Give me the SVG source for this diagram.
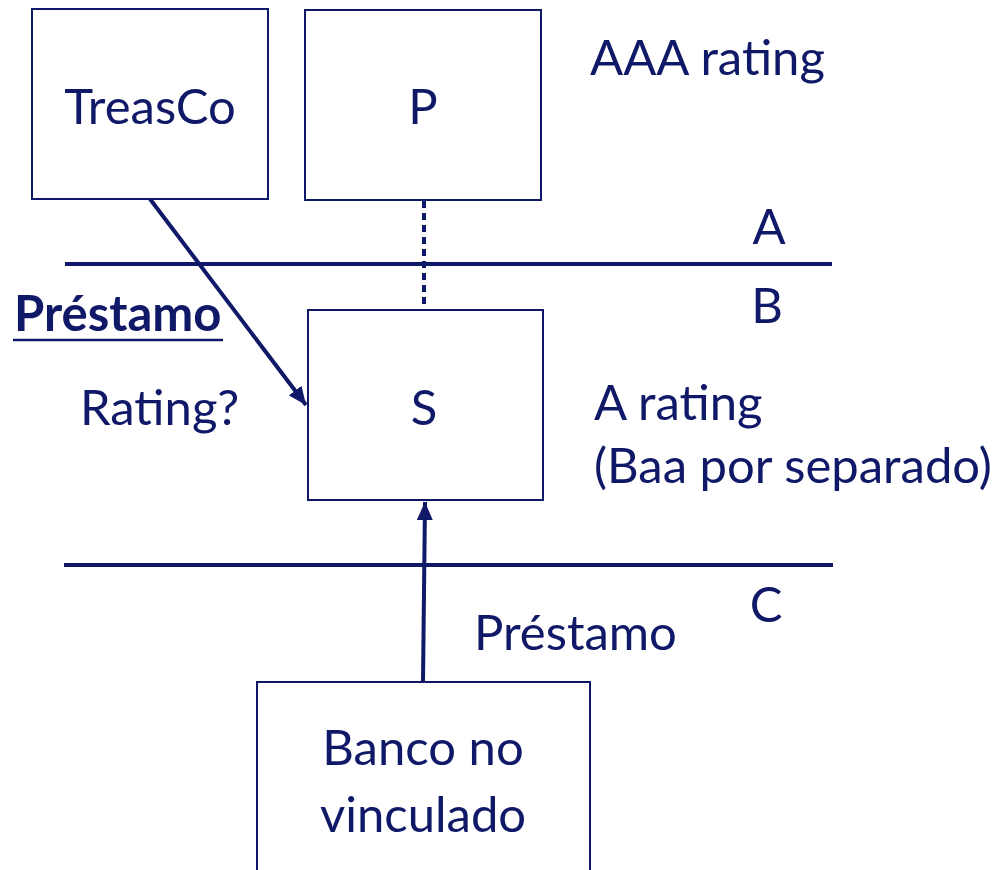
<svg xmlns="http://www.w3.org/2000/svg" width="1005" height="870" viewBox="0 0 1005 870">
  <style>
    .box { fill: #ffffff; stroke: #101868; stroke-width: 2; }
    .rule { stroke: #101868; stroke-width: 4; fill: none; }
    .link { stroke: #101868; stroke-width: 4; fill: none; }
    .dot { stroke: #101868; stroke-width: 4; fill: none; stroke-dasharray: 7 5; }
    text { font-family: "Lato", "Open Sans", "Liberation Sans", sans-serif; font-size: 49px; fill: #101868; }
    .mid { text-anchor: middle; }
    .bold { font-weight: bold; }
  </style>
  <defs>
    <marker id="head" markerUnits="userSpaceOnUse" markerWidth="20" markerHeight="16" refX="18" refY="8" orient="auto">
      <path d="M0,0 L18,8 L0,16 Z" fill="#101868"/>
    </marker>
  </defs>

  <rect width="1005" height="870" fill="#ffffff"/>

  <!-- tier separators -->
  <g id="tiers">
    <line class="rule" x1="65" y1="264" x2="832" y2="264"/>
    <line class="rule" x1="64" y1="565" x2="833" y2="565"/>
    <text x="769" y="244" class="mid">A</text>
    <text x="767" y="323" class="mid">B</text>
    <text x="766" y="622" class="mid">C</text>
  </g>

  <!-- connectors -->
  <g id="connectors">
    <line class="dot" x1="424" y1="201" x2="424" y2="309"/>
    <line class="link" x1="150" y1="199" x2="306" y2="405" marker-end="url(#head)"/>
    <line class="link" x1="423" y1="682" x2="425" y2="502" marker-end="url(#head)"/>
  </g>

  <g id="treasco">
    <rect class="box" x="32" y="9" width="236" height="190"/>
    <text x="150" y="124" class="mid">TreasCo</text>
  </g>

  <g id="p">
    <rect class="box" x="305" y="10" width="236" height="190"/>
    <text x="423" y="124" class="mid">P</text>
  </g>

  <g id="s">
    <rect class="box" x="308" y="310" width="235" height="190"/>
    <text x="424" y="425" class="mid">S</text>
  </g>

  <g id="banco">
    <rect class="box" x="257" y="682" width="333" height="200"/>
    <text x="423" y="765" class="mid">Banco no</text>
    <text x="423" y="832" class="mid">vinculado</text>
  </g>

  <!-- annotations -->
  <g id="labels">
    <text x="590" y="75">AAA rating</text>
    <text x="594" y="420">A rating</text>
    <text x="594" y="483">(Baa por separado)</text>
    <text x="14" y="331" class="bold">Préstamo</text>
    <line x1="13" y1="340" x2="223" y2="340" stroke="#101868" stroke-width="2.5"/>
    <text x="80" y="425">Rating?</text>
    <text x="474" y="650">Préstamo</text>
  </g>
</svg>
